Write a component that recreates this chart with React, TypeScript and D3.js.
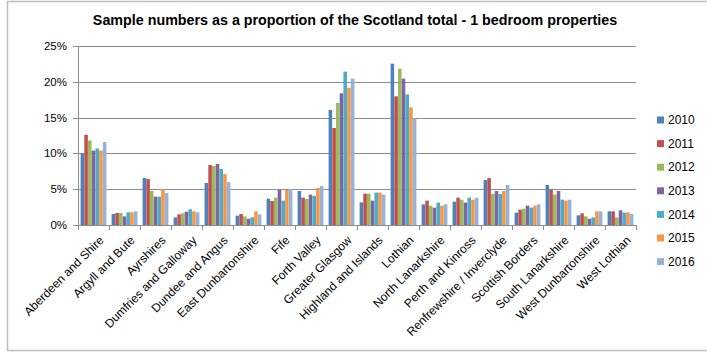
import React from "react";
import * as d3 from "d3";

const categories = [
  "Aberdeen and Shire", "Argyll and Bute", "Ayrshires", "Dumfries and Galloway",
  "Dundee and Angus", "East Dunbartonshire", "Fife", "Forth Valley", "Greater Glasgow",
  "Highland and Islands", "Lothian", "North Lanarkshire", "Perth and Kinross",
  "Renfrewshire / Inverclyde", "Scottish Borders", "South Lanarkshire",
  "West Dunbartonshire", "West Lothian",
];
const years = ["2010", "2011", "2012", "2013", "2014", "2015", "2016"];
const colors = ["#4F81BD", "#C0504D", "#9BBB59", "#8064A2", "#4BACC6", "#F79646", "#95B3D7"];

const v2010 = [10.0, 1.54, 6.56, 1.07, 5.87, 1.3, 3.68, 4.75, 16.06, 3.17, 22.53, 2.89, 3.26, 6.28, 1.72, 5.59, 1.35, 1.91];
const v2011 = [12.6, 1.68, 6.42, 1.49, 8.38, 1.54, 3.35, 3.82, 13.55, 4.38, 17.97, 3.4, 3.82, 6.56, 2.14, 4.93, 1.63, 1.91];
const v2012 = [11.8, 1.68, 4.75, 1.63, 8.24, 1.21, 3.82, 3.63, 17.04, 4.38, 21.83, 2.7, 3.54, 4.33, 2.28, 4.24, 1.21, 1.07];
const v2013 = [10.4, 1.21, 3.96, 1.86, 8.52, 0.88, 4.89, 4.24, 18.39, 3.4, 20.44, 2.42, 3.12, 4.75, 2.7, 4.75, 0.88, 2.05];
const v2014 = [10.7, 1.77, 3.96, 2.19, 7.82, 1.07, 3.4, 4.05, 21.42, 4.52, 18.25, 3.12, 3.82, 4.33, 2.42, 3.54, 1.07, 1.72];
const v2015 = [10.4, 1.77, 4.98, 1.91, 7.12, 1.91, 4.89, 5.17, 19.18, 4.52, 16.43, 2.7, 3.54, 4.75, 2.7, 3.4, 1.91, 1.77];
const v2016 = [11.6, 1.91, 4.47, 1.77, 6.0, 1.49, 5.03, 5.45, 20.44, 4.24, 14.9, 2.89, 3.82, 5.59, 2.89, 3.54, 1.91, 1.54];
const series = [v2010, v2011, v2012, v2013, v2014, v2015, v2016];
const yTicks = [0, 5, 10, 15, 20, 25];

const title = "Sample numbers as a proportion of the Scotland total - 1 bedroom properties";

export default function App() {
  const W = 707, H = 353;
  const left = 78, right = 636, top = 46, bottom = 225;
  const x0 = d3.scaleBand<string>().domain(categories).range([left, right]).padding(0);
  const x1 = d3.scaleBand<string>().domain(years).range([0, x0.bandwidth()])
    .paddingInner(0.04).paddingOuter(0.7);
  const y = d3.scaleLinear().domain([0, 25]).range([bottom, top]);
  const font = "'Liberation Sans', Arial, sans-serif";

  return (
    <svg width={W} height={H} style={{ position: "absolute", left: 0, top: 0 }}>
      <rect x={0} y={0} width={W} height={H} fill="#fff" />
      <rect x={7.5} y={1.5} width={710} height={349} fill="#fff" stroke="#BDBDBD" strokeWidth={1.5} />
      <text x={355} y={25} textAnchor="middle" fontFamily={font} fontWeight="bold" fontSize={14.3} fill="#000">
        {title}
      </text>
      {yTicks.map((t) => (
        <g key={t}>
          <line x1={left} x2={right} y1={Math.round(y(t)) + 0.5} y2={Math.round(y(t)) + 0.5} stroke="#8C8C8C" strokeWidth={1} />
          <line x1={left - 5} x2={left} y1={Math.round(y(t)) + 0.5} y2={Math.round(y(t)) + 0.5} stroke="#8C8C8C" strokeWidth={1} />
          <text x={67} y={y(t)} dy="0.35em" textAnchor="end" fontFamily={font} fontSize={11.5} fill="#000">
            {t + "%"}
          </text>
        </g>
      ))}
      <line x1={left + 0.5} x2={left + 0.5} y1={top} y2={bottom} stroke="#8C8C8C" strokeWidth={1} />
      {categories.map((c, i) => (
        <g key={c}>
          {series.map((s, j) => (
            <rect key={j} x={(x0(c) as number) + (x1(years[j]) as number)} y={y(s[i])}
              width={x1.bandwidth()} height={bottom - y(s[i])} fill={colors[j]} />
          ))}
        </g>
      ))}
      {[...categories.map((c) => x0(c) as number), right].map((xx, i) => (
        <line key={i} x1={Math.round(xx) + 0.5} x2={Math.round(xx) + 0.5} y1={bottom} y2={bottom + 5} stroke="#8C8C8C" strokeWidth={1} />
      ))}
      {categories.map((c) => {
        const cx = (x0(c) as number) + x0.bandwidth() / 2;
        return (
          <text key={c} transform={`translate(${cx + 5},${bottom + 10}) rotate(-45)`} textAnchor="end"
            dy="0.7em" fontFamily={font} fontSize={12} fill="#000">
            {c}
          </text>
        );
      })}
      {years.map((yr, j) => (
        <g key={yr} transform={`translate(657,${120 + j * 23.6})`}>
          <rect x={0} y={-3.5} width={7} height={7} fill={colors[j]} />
          <text x={11} y={0} dy="0.35em" fontFamily={font} fontSize={12} fill="#000">{yr}</text>
        </g>
      ))}
    </svg>
  );
}
